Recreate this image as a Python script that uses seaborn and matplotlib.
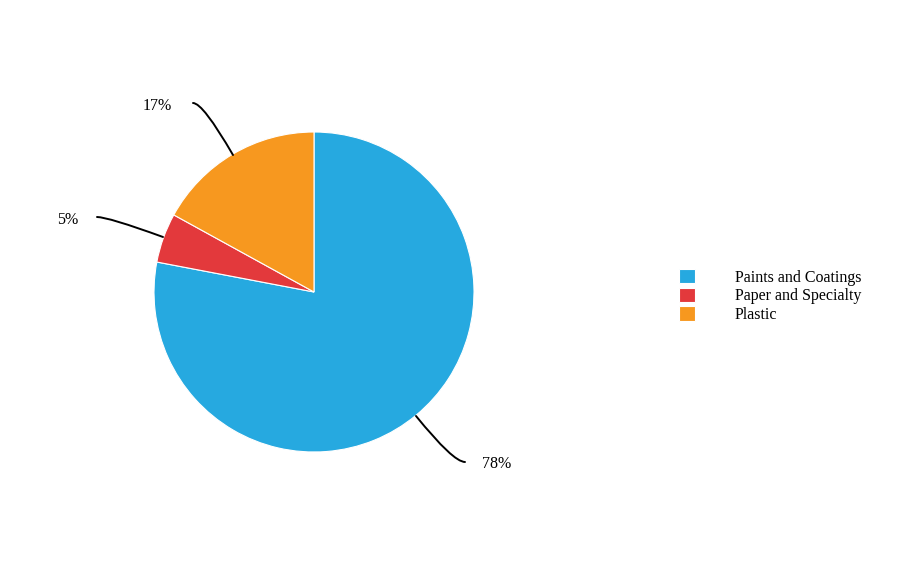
import matplotlib.pyplot as plt
import seaborn as sns

categories = ["Paints and Coatings", "Paper and Specialty", "Plastic"]
shares = [78, 5, 17]
pct_labels = ["78%", "5%", "17%"]
colors = ["#26A9E0", "#E3393C", "#F7981F"]

sns.set_theme(style="white")
plt.rcParams["font.family"] = ["Liberation Serif", "DejaVu Serif"]

fig = plt.figure(figsize=(9, 5.86), dpi=100)
ax = fig.add_axes([0, 0, 1, 1])

palette = sns.color_palette(colors)
wedges, _ = ax.pie(
    shares,
    colors=palette,
    startangle=90,
    counterclock=False,
    radius=1,
    center=(0, 0),
    frame=True,
    wedgeprops=dict(edgecolor="white", linewidth=0.8),
)
# pie centre at pixel (314, 292), radius 160 px -> 1 data unit
ax.set_xlim(-314 / 160, (900 - 314) / 160)
ax.set_ylim((292 - 586) / 160, 292 / 160)
ax.axis("off")


def px(x, y):
    return ((x - 314) / 160, (292 - y) / 160)


# leader lines: (edge point, line end, edge angle, text pos, ha)
leaders = [
    (px(416, 416), px(465, 462), -51, px(482, 464), "left"),
    (px(163, 237), px(97, 217), 160, px(78, 220), "right"),
    (px(233, 155), px(193, 103), 120, px(172, 106), "right"),
]
for lab, (edge, end, ang, tpos, ha) in zip(pct_labels, leaders):
    ax.annotate(
        "", xy=edge, xytext=end,
        arrowprops=dict(arrowstyle="-", color="black", lw=1.4,
                        shrinkA=0, shrinkB=0,
                        connectionstyle=f"angle3,angleA=0,angleB={ang}"),
    )
    ax.text(tpos[0], tpos[1], lab, ha=ha, va="center", fontsize=11.5, color="black")

leg = fig.legend(
    wedges, categories,
    loc="center left", bbox_to_anchor=(679 / 900, (586 - 296) / 586),
    frameon=False, fontsize=11.5,
    handlelength=1.0, handleheight=1.0, handletextpad=2.5,
    labelspacing=0.12, borderpad=0, borderaxespad=0,
)
for t in leg.get_texts():
    t.set_color("black")

fig.savefig("out.png", dpi=100)
